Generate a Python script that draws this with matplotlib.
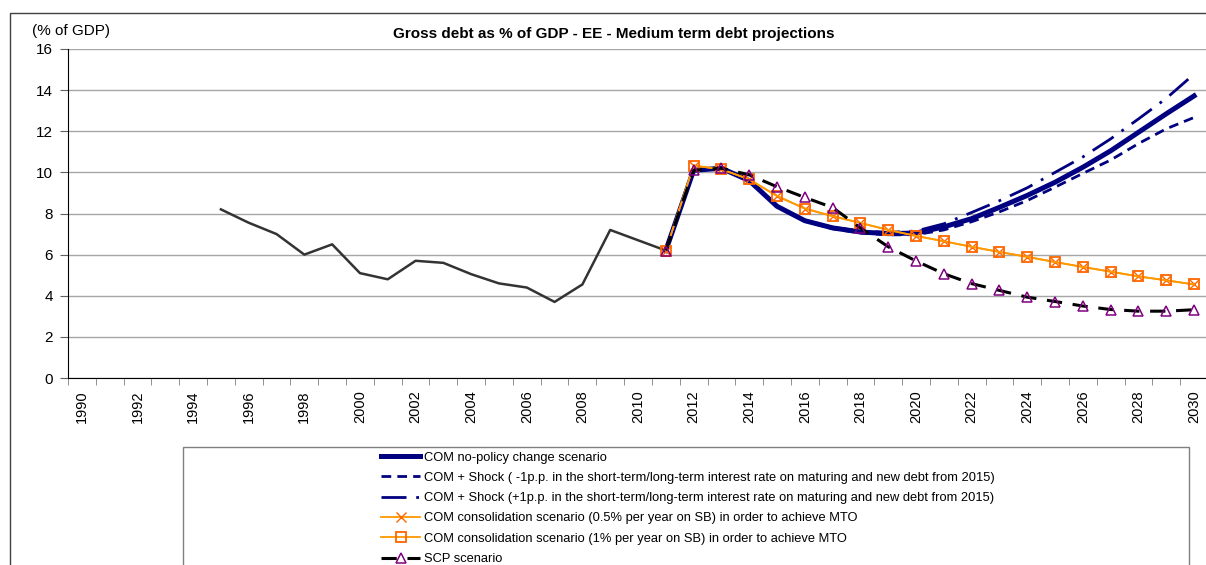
"""Gross debt as % of GDP - EE - medium term debt projections (Excel-style line chart)."""

import matplotlib.pyplot as plt
import numpy as np
from matplotlib.patches import Rectangle

plt.rcParams["font.family"] = ["Liberation Sans", "DejaVu Sans"]

NAVY = "#000080"
ORANGE = "#FF9900"
ORANGE_MK = "#FF6600"
PURPLE = "#800080"
HIST = "#333333"
GRID = "#A6A6A6"

# ---------------------------------------------------------------------------
# data
# ---------------------------------------------------------------------------
hist_years = list(range(1995, 2012))
hist_debt = [8.2, 7.55, 7.0, 6.0, 6.5, 5.1, 4.8, 5.7, 5.6, 5.05, 4.6, 4.4,
             3.7, 4.55, 7.2, 6.7, 6.2]

proj_years = list(range(2011, 2031))
com_npc = [6.2, 10.1, 10.2, 9.6, 8.35, 7.65, 7.3, 7.1, 7.02, 7.05, 7.35, 7.75,
           8.3, 8.88, 9.52, 10.25, 11.05, 11.95, 12.85, 13.72]
shock_minus = [6.2, 10.1, 10.2, 9.6, 8.35, 7.63, 7.26, 7.05, 6.96, 6.97, 7.2, 7.6,
               8.08, 8.63, 9.28, 9.95, 10.6, 11.4, 12.12, 12.67]
shock_plus = [6.2, 10.1, 10.2, 9.6, 8.35, 7.68, 7.33, 7.15, 7.08, 7.15, 7.5, 8.05,
              8.62, 9.25, 10.0, 10.75, 11.63, 12.6, 13.6, 14.78]
cons_05 = [6.2, 10.33, 10.15, 9.66, 8.85, 8.24, 7.87, 7.54, 7.2, 6.91, 6.65, 6.38,
           6.13, 5.89, 5.64, 5.4, 5.17, 4.94, 4.75, 4.55]
cons_1 = [6.2, 10.33, 10.15, 9.66, 8.85, 8.24, 7.87, 7.54, 7.2, 6.91, 6.65, 6.38,
          6.13, 5.89, 5.64, 5.4, 5.17, 4.94, 4.75, 4.55]
scp = [6.2, 10.1, 10.2, 9.88, 9.3, 8.78, 8.29, 7.3, 6.38, 5.69, 5.07, 4.59,
       4.26, 3.93, 3.72, 3.5, 3.33, 3.25, 3.25, 3.32]

labels = [
    "COM no-policy change scenario",
    "COM + Shock ( -1p.p. in the short-term/long-term interest rate on maturing and new debt from 2015)",
    "COM + Shock (+1p.p. in the short-term/long-term interest rate on maturing and new debt from 2015)",
    "COM consolidation scenario (0.5% per year on SB) in order to achieve MTO",
    "COM consolidation scenario (1% per year on SB) in order to achieve MTO",
    "SCP scenario",
]

all_years = np.arange(1990, 2031)

# ---------------------------------------------------------------------------
# figure
# ---------------------------------------------------------------------------
W, H = 1206, 565
fig = plt.figure(figsize=(W / 100, H / 100), dpi=100)

# outer chart frame
fig.patches.append(Rectangle((10 / W, -0.1), 1.2, (H - 13) / H + 0.1,
                             transform=fig.transFigure, fill=False,
                             edgecolor="#404040", linewidth=1.0))

ax = fig.add_axes([68 / W, (H - 378) / H, (1208 - 68) / W, (378 - 49) / H])

ax.plot(hist_years, hist_debt, color=HIST, lw=1.8, zorder=3)
l_npc, = ax.plot(proj_years, com_npc, color=NAVY, lw=3.6, zorder=4)
l_minus, = ax.plot(proj_years, shock_minus, color=NAVY, lw=2.0,
                   linestyle=(0, (3.5, 2.2)), zorder=4)
l_plus, = ax.plot(proj_years, shock_plus, color=NAVY, lw=2.0,
                  linestyle=(0, (9, 3.5, 1, 3.5)), zorder=4)
l_c05, = ax.plot(proj_years, cons_05, color=ORANGE, lw=1.3, marker="x",
                 ms=6.5, mec=ORANGE_MK, mew=1.0, zorder=5)
l_c1, = ax.plot(proj_years, cons_1, color=ORANGE, lw=1.3, marker="s",
                ms=7.5, mfc="none", mec=ORANGE_MK, mew=1.3, zorder=5)
l_scp, = ax.plot(proj_years, scp, color="black", lw=2.2,
                 linestyle=(0, (5, 3.5)), marker="^", ms=7.5, mfc="none",
                 mec=PURPLE, mew=1.1, zorder=6)

ax.set_xlim(1989.5, 2030.5)
ax.set_ylim(0, 16)
ax.set_yticks(range(0, 17, 2))
ax.set_xticks(all_years[::2])
ax.set_xticklabels([str(y) for y in all_years[::2]], rotation=90, fontsize=10.5)
ax.set_xticks(np.arange(1989.5, 2031, 1), minor=True)
ax.tick_params(axis="x", which="major", length=0, pad=9)
ax.tick_params(axis="x", which="minor", length=5, color="#808080", direction="out")
ax.tick_params(axis="y", labelsize=11, length=6, pad=5, color="#606060",
               direction="out")

ax.grid(axis="y", color=GRID, lw=1.0)
ax.set_axisbelow(True)
for s in ("top", "right"):
    ax.spines[s].set_visible(False)
ax.spines["left"].set_color("black")
ax.spines["bottom"].set_color("black")

fig.text(32 / W, (H - 31) / H, "(% of GDP)", fontsize=11, ha="left", va="center")
fig.text(614 / W, (H - 34) / H,
         "Gross debt as % of GDP - EE - Medium term debt projections",
         fontsize=11, fontweight="bold", ha="center", va="center")

# legend box
fig.patches.append(Rectangle((183 / W, -0.1), (1189 - 183) / W, (H - 447) / H + 0.1,
                             transform=fig.transFigure, fill=False,
                             edgecolor="#808080", linewidth=1.0))
handles = [l_npc, l_minus, l_plus, l_c05, l_c1, l_scp]
fig.legend(handles, labels, loc="upper left",
           bbox_to_anchor=(375 / W, (H - 445) / H), frameon=False,
           fontsize=9.3, handlelength=3.0, handletextpad=0.3,
           labelspacing=0.64, borderpad=0, numpoints=1)

fig.savefig("out.png", dpi=100, facecolor="white")
